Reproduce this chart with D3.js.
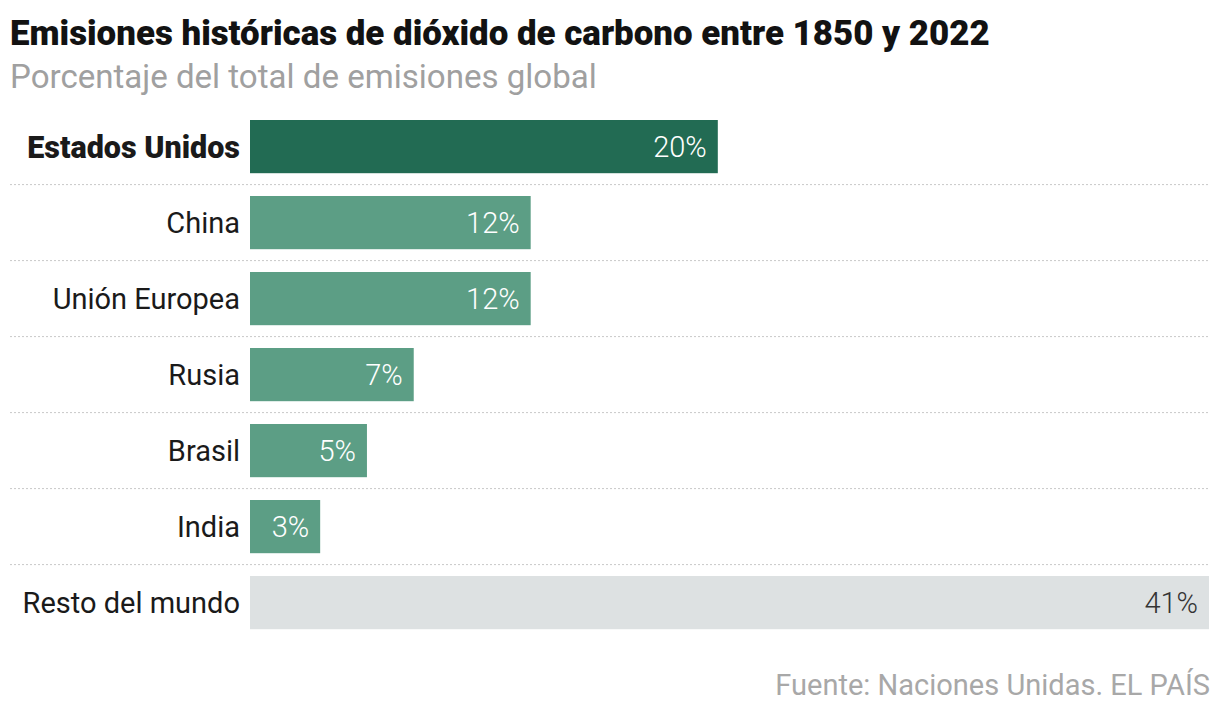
<!DOCTYPE html>
<html>
<head>
<meta charset="utf-8">
<script src="https://cdn.jsdelivr.net/npm/d3@7"></script>
<style>
  body { margin: 0; background: #fff; }
  svg { display: block; font-family: Roboto, "Noto Sans", sans-serif; }
</style>
</head>
<body>
<svg id="chart" width="1220" height="714"></svg>
<script>
const countries = ["Estados Unidos", "China", "Unión Europea", "Rusia", "Brasil", "India", "Resto del mundo"];
const shares = [20, 12, 12, 7, 5, 3, 41];
const valueLabels = ["20%", "12%", "12%", "7%", "5%", "3%", "41%"];

const svg = d3.select("#chart");

const x = d3.scaleLinear().domain([0, 41]).range([250, 1209]);
const y = d3.scaleBand().domain(countries).range([120, 629.2]).paddingInner(0.3).paddingOuter(0);

function barColor(name) {
    if (name === "Estados Unidos") return "#226b53";
    if (name === "Resto del mundo") return "#dde1e2";
    return "#5c9e85";
}

// shrink/grow font so the text spans about the width seen in the original
function fitWidth(sel, target) {
    const size = +sel.attr("font-size");
    const len = sel.node().getComputedTextLength();
    sel.attr("font-size", size * target / len);
}

const title = svg.append("text")
    .attr("x", 10).attr("y", 45)
    .attr("font-size", 32).attr("font-weight", 900)
    .attr("fill", "#121212")
    .text("Emisiones históricas de dióxido de carbono entre 1850 y 2022");
fitWidth(title, 980);

const subtitle = svg.append("text")
    .attr("x", 10).attr("y", 88)
    .attr("font-size", 32).attr("font-weight", 400)
    .attr("fill", "#a0a0a0")
    .text("Porcentaje del total de emisiones global");
fitWidth(subtitle, 587);

// dotted separators between rows
const gap = y.step() - y.bandwidth();
svg.selectAll("line.sep")
    .data(countries.slice(1))
    .enter()
    .append("line")
    .attr("class", "sep")
    .attr("x1", 10).attr("x2", 1210)
    .attr("y1", d => y(d) - gap / 2)
    .attr("y2", d => y(d) - gap / 2)
    .attr("stroke", "#c8c8c8")
    .attr("stroke-width", 1)
    .attr("stroke-dasharray", "2,2");

const rows = countries.map((c, i) => ({ name: c, value: shares[i], label: valueLabels[i] }));

svg.selectAll("rect.bar")
    .data(rows)
    .enter()
    .append("rect")
    .attr("class", "bar")
    .attr("x", x(0))
    .attr("y", d => y(d.name))
    .attr("width", d => x(d.value) - x(0))
    .attr("height", y.bandwidth())
    .attr("fill", d => barColor(d.name));

svg.selectAll("text.cat")
    .data(rows)
    .enter()
    .append("text")
    .attr("class", "cat")
    .attr("x", 240)
    .attr("y", d => y(d.name) + y.bandwidth() / 2)
    .attr("dy", "0.36em")
    .attr("text-anchor", "end")
    .attr("font-size", d => d.name === "Estados Unidos" ? 30.5 : 29)
    .attr("font-weight", d => d.name === "Estados Unidos" ? 900 : 400)
    .attr("fill", "#1a1a1a")
    .text(d => d.name);

svg.selectAll("text.val")
    .data(rows)
    .enter()
    .append("text")
    .attr("class", "val")
    .attr("x", d => x(d.value) - 11)
    .attr("y", d => y(d.name) + y.bandwidth() / 2)
    .attr("dy", "0.36em")
    .attr("text-anchor", "end")
    .attr("font-size", 29)
    .attr("font-weight", 300)
    .attr("fill", d => d.name === "Resto del mundo" ? "#333" : "#fff")
    .text(d => d.label);

const source = svg.append("text")
    .attr("x", 1210).attr("y", 695)
    .attr("text-anchor", "end")
    .attr("font-size", 27)
    .attr("fill", "#a8a8a8")
    .text("Fuente: Naciones Unidas. EL PAÍS");
fitWidth(source, 435);
</script>
</body>
</html>
